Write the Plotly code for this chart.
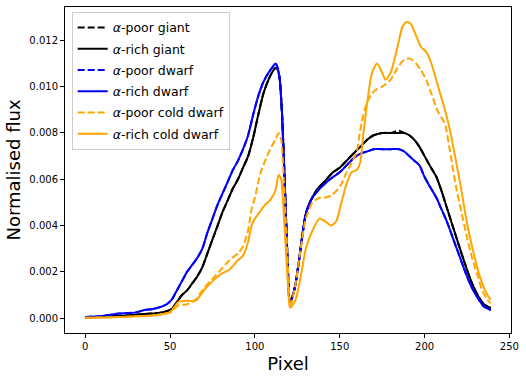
import plotly.graph_objects as go

# pixel grids
pix_main = [0, 10, 20, 25, 30, 35, 40, 45, 48, 51, 54, 57, 60, 63, 66, 69, 72, 75, 78, 81,
            84, 87, 90, 93, 96, 99, 102, 105, 108, 110, 112, 113, 114.5, 116, 118, 119.5,
            120.5, 122, 124, 126, 128, 130, 133, 137, 141, 146, 150, 154, 158, 162, 166,
            170, 175, 180, 185, 188, 191, 194, 197, 200, 203, 207, 210, 213, 216.5, 220,
            224.5, 228, 232, 235, 239]

giant_poor = [0.00003, 0.00006, 0.0001, 0.00012, 0.00015, 0.00018, 0.0002, 0.00025, 0.0003,
              0.0004, 0.0007, 0.001, 0.0012, 0.0015, 0.0018, 0.0022, 0.0028, 0.0034, 0.004,
              0.0046, 0.0051, 0.0056, 0.006, 0.0065, 0.007, 0.0078, 0.0088, 0.0097, 0.0103,
              0.0106, 0.0108, 0.0108, 0.0104, 0.0088, 0.005, 0.002, 0.0007, 0.0009, 0.0015,
              0.0025, 0.0036, 0.0045, 0.0051, 0.0056, 0.0059, 0.0063, 0.0065, 0.0068, 0.0071,
              0.0074, 0.0077, 0.0079, 0.008, 0.008, 0.0081, 0.008, 0.0079, 0.0077, 0.0074,
              0.007, 0.0066, 0.0061, 0.0055, 0.0048, 0.004, 0.0032, 0.0022, 0.0015, 0.0009,
              0.0006, 0.00043]
giant_rich = [0.00003, 0.00006, 0.0001, 0.00012, 0.00015, 0.00018, 0.0002, 0.00025, 0.0003,
              0.0004, 0.0007, 0.001, 0.0012, 0.0015, 0.0018, 0.0022, 0.0028, 0.0034, 0.004,
              0.0046, 0.0051, 0.0056, 0.006, 0.0065, 0.007, 0.0078, 0.0088, 0.0097, 0.0103,
              0.0106, 0.0108, 0.0108, 0.0104, 0.0088, 0.005, 0.002, 0.0007, 0.0009, 0.0015,
              0.0025, 0.0036, 0.0045, 0.0051, 0.0056, 0.0059, 0.0063, 0.0065, 0.0068, 0.0071,
              0.0074, 0.0077, 0.0079, 0.008, 0.008, 0.008, 0.008, 0.0079, 0.0077, 0.0074,
              0.007, 0.0066, 0.0061, 0.0055, 0.0048, 0.004, 0.0032, 0.0022, 0.0015, 0.0009,
              0.0006, 0.00043]
dwarf_poor = [0.00005, 0.0001, 0.0002, 0.00022, 0.00025, 0.00035, 0.0004, 0.0005, 0.0006,
              0.0008, 0.0012, 0.0016, 0.002, 0.0023, 0.0026, 0.003, 0.0037, 0.0043, 0.0049,
              0.0054, 0.0059, 0.0064, 0.0068, 0.0073, 0.0079, 0.0088, 0.0096, 0.0102, 0.0106,
              0.0108, 0.011, 0.0109, 0.0104, 0.0088, 0.005, 0.002, 0.0007, 0.0009, 0.0015,
              0.0025, 0.0036, 0.0045, 0.0051, 0.0055, 0.0058, 0.0061, 0.0063, 0.0066, 0.0069,
              0.0071, 0.0072, 0.0073, 0.0073, 0.0073, 0.0073, 0.0072, 0.007, 0.0068, 0.0066,
              0.0061, 0.0057, 0.0052, 0.0047, 0.0042, 0.0035, 0.0028, 0.0019, 0.0013, 0.0008,
              0.0005, 0.00035]
dwarf_rich = [0.00005, 0.0001, 0.0002, 0.00022, 0.00025, 0.00035, 0.0004, 0.0005, 0.0006,
              0.0008, 0.0012, 0.0016, 0.002, 0.0023, 0.0026, 0.003, 0.0037, 0.0043, 0.0049,
              0.0054, 0.0059, 0.0064, 0.0068, 0.0073, 0.0079, 0.0088, 0.0096, 0.0102, 0.0106,
              0.0108, 0.011, 0.0109, 0.0104, 0.0088, 0.005, 0.002, 0.0007, 0.0009, 0.0015,
              0.0025, 0.0036, 0.0045, 0.0051, 0.0055, 0.0058, 0.0061, 0.0063, 0.0066, 0.0069,
              0.0071, 0.0072, 0.0073, 0.0073, 0.0073, 0.0073, 0.0072, 0.007, 0.0068, 0.0066,
              0.0061, 0.0057, 0.0052, 0.0047, 0.0042, 0.0035, 0.0028, 0.0019, 0.0013, 0.0008,
              0.0005, 0.00035]

pix_cold = [0, 10, 20, 30, 40, 46, 50, 55, 60, 65, 70, 75, 80, 85, 90, 93, 96, 98, 100, 103,
            106, 109, 112, 114, 115.5, 117, 119, 120.5, 121, 124, 127, 130, 134, 138, 141,
            145, 148, 151, 154, 157, 160, 162, 164, 166, 169, 172, 175, 177, 180, 184, 187,
            189.5, 192, 195, 198, 201, 204, 208, 212, 215, 219, 222, 225, 228, 231, 234,
            237, 239]
cold_poor = [0.00002, 0.00003, 0.00005, 0.00008, 0.00012, 0.00018, 0.00025, 0.00055, 0.0006,
             0.0008, 0.0013, 0.0017, 0.0021, 0.0025, 0.0028, 0.0031, 0.0038, 0.0047, 0.0052,
             0.0062, 0.0068, 0.0073, 0.0077, 0.008, 0.0077, 0.006, 0.003, 0.0007, 0.0005,
             0.0015, 0.003, 0.0043, 0.005, 0.0052, 0.0052, 0.0053, 0.0055, 0.0058, 0.0063,
             0.0067, 0.0072, 0.0081, 0.0088, 0.0093, 0.0097, 0.0099, 0.01, 0.0101, 0.0103,
             0.0108, 0.0111, 0.0112, 0.0112, 0.011, 0.0107, 0.0103, 0.0097, 0.0089, 0.0084,
             0.0072, 0.0055, 0.0045, 0.0035, 0.0026, 0.0019, 0.0012, 0.0008, 0.00065]
cold_rich = [0.00002, 0.00003, 0.00005, 0.00008, 0.00012, 0.00018, 0.00025, 0.0007, 0.00075,
             0.00075, 0.0012, 0.0016, 0.0019, 0.0021, 0.0025, 0.0027, 0.0033, 0.004, 0.0043,
             0.0046, 0.0049, 0.0051, 0.0055, 0.0062, 0.006, 0.0045, 0.002, 0.0005, 0.00045,
             0.0008, 0.0018, 0.003, 0.0038, 0.0043, 0.0042, 0.004, 0.0042, 0.005, 0.0058,
             0.0063, 0.0064, 0.0067, 0.008, 0.0092, 0.0106, 0.011, 0.0106, 0.0103, 0.0106,
             0.0117, 0.0126, 0.0128, 0.0127, 0.0122, 0.0117, 0.0115, 0.011, 0.01, 0.009,
             0.0081, 0.0066, 0.0054, 0.0041, 0.0031, 0.0022, 0.0015, 0.001, 0.0008]

series = [
    ('<i>α</i>-poor giant', pix_main, giant_poor, 'black', 'dash'),
    ('<i>α</i>-rich giant', pix_main, giant_rich, 'black', 'solid'),
    ('<i>α</i>-poor dwarf', pix_main, dwarf_poor, 'blue', 'dash'),
    ('<i>α</i>-rich dwarf', pix_main, dwarf_rich, 'blue', 'solid'),
    ('<i>α</i>-poor cold dwarf', pix_cold, cold_poor, 'orange', 'dash'),
    ('<i>α</i>-rich cold dwarf', pix_cold, cold_rich, 'orange', 'solid'),
]

fig = go.Figure()
for i, (name, x, y, color, dash) in enumerate(series):
    fig.add_trace(go.Scatter(
        x=x, y=y, name=name, mode='lines', legendgroup=str(i),
        line=dict(color=color, width=2, shape='spline', smoothing=0.6,
                  dash='7px,3px' if dash == 'dash' else 'solid'),
    ))

axis_style = dict(
    showline=True, mirror=True, linecolor='black', linewidth=1, automargin=False,
    ticks='outside', ticklen=4, tickcolor='black', showgrid=False, zeroline=False,
    tickfont=dict(size=10, color='black'),
)

fig.update_layout(
    width=526, height=379,
    margin=dict(l=65, r=15, t=7, b=46),
    paper_bgcolor='white', plot_bgcolor='white',
    font=dict(family='DejaVu Sans', color='black'),
    legend=dict(
        x=0.015, y=0.985, xanchor='left', yanchor='top',
        bgcolor='white', bordercolor='#cccccc', borderwidth=1,
        font=dict(size=12.5), tracegroupgap=2,
    ),
)
fig.update_xaxes(range=[-11.95, 250.95], dtick=50, tick0=0,
                 title=dict(text='Pixel', font=dict(size=18), standoff=6), **axis_style)
fig.update_yaxes(range=[-0.00064, 0.01344], dtick=0.002, tick0=0, tickformat='.3f',
                 title=dict(text='Normalised flux', font=dict(size=18), standoff=4), **axis_style)

# page body has a default margin; drop it so the figure sits at the top-left corner
fig.write_html('out.html', config={'displayModeBar': False},
               post_script="document.body.style.margin='0';")
